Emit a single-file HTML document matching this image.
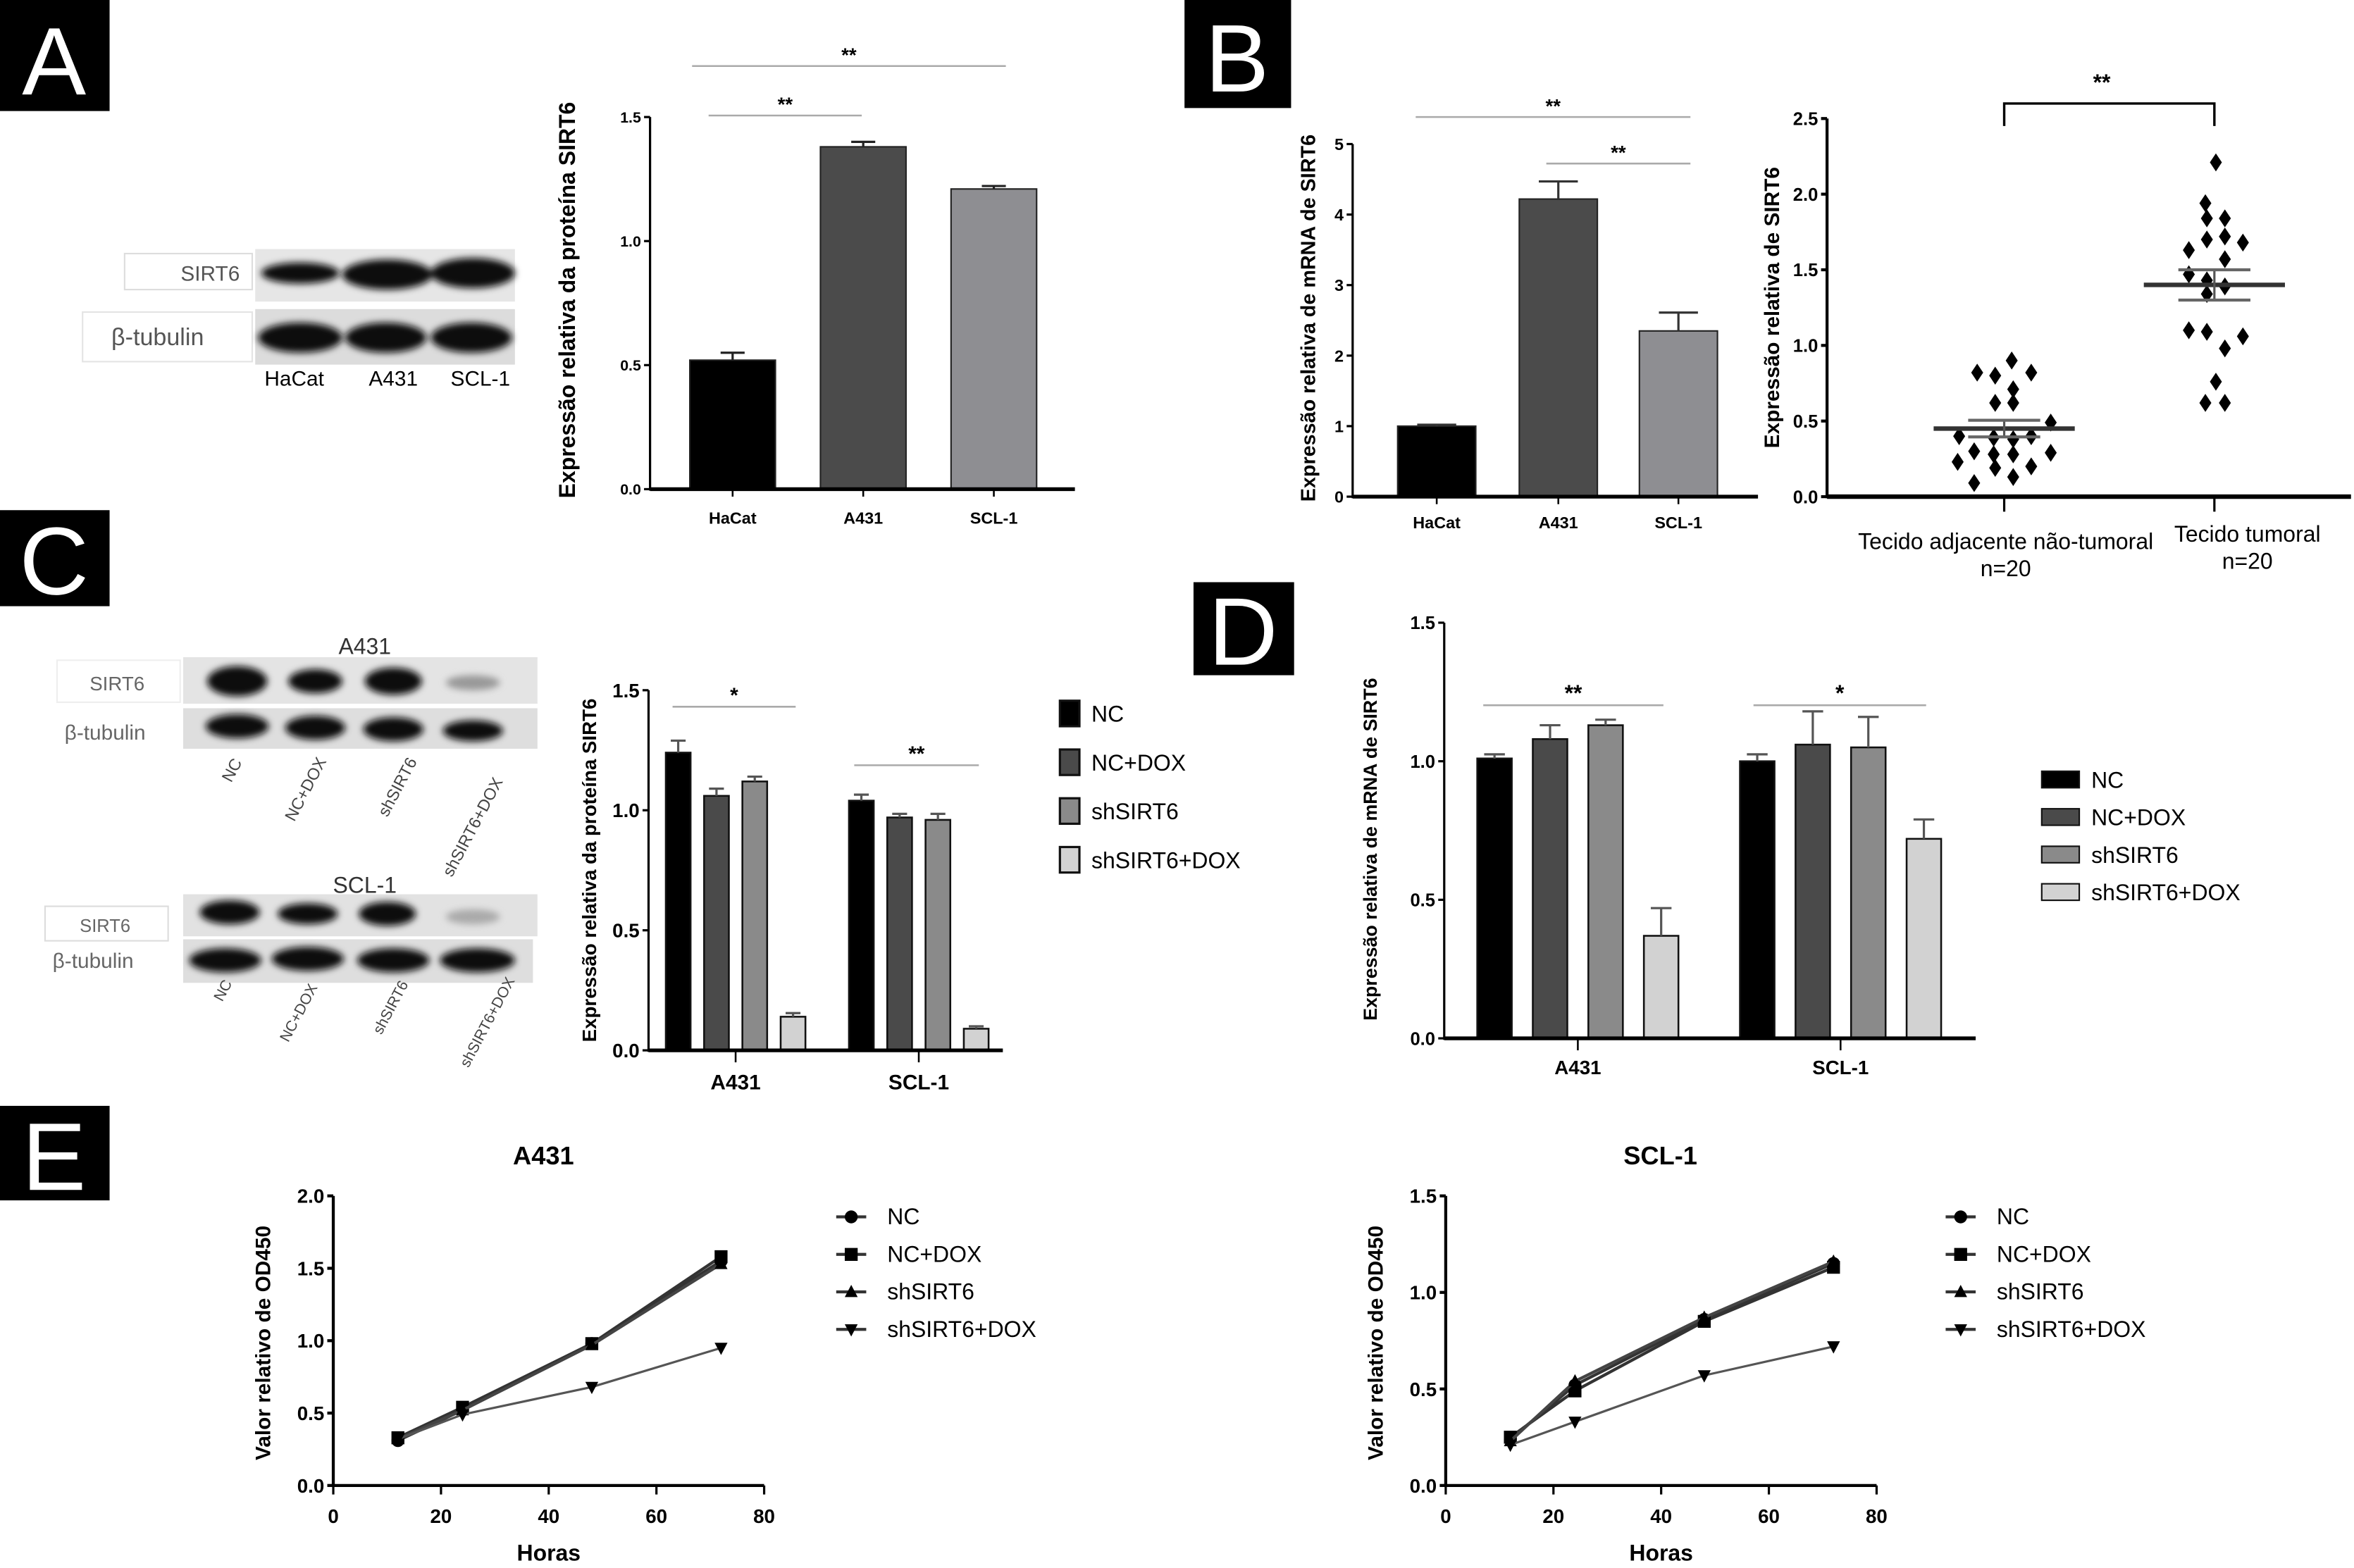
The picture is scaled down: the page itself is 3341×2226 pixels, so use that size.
<!DOCTYPE html>
<html><head><meta charset="utf-8"><style>
html,body{margin:0;padding:0;background:#fff;}
svg{display:block;}
text{font-family:"Liberation Sans",sans-serif;fill:#000;}
.n{font-family:"Liberation Sans Narrow","Liberation Sans",sans-serif;font-weight:bold;}
.b{font-weight:bold;}
.let{font-family:"Liberation Sans",sans-serif;fill:#fff;font-size:64px;}
</style></head><body>
<svg id="fig" width="3341" height="2226" viewBox="0 0 1568 1045" preserveAspectRatio="none" xmlns="http://www.w3.org/2000/svg">
<defs><filter id="blur" x="-20%" y="-50%" width="140%" height="200%"><feGaussianBlur stdDeviation="2.2"/></filter></defs>
<g><rect x="0" y="0" width="73" height="74" fill="#000"/><text class="let" x="36" y="63" text-anchor="middle">A</text></g>
<g><rect x="789" y="0" width="71" height="72" fill="#000"/><text class="let" x="824" y="61" text-anchor="middle">B</text></g>
<g><rect x="0" y="340" width="73" height="64" fill="#000"/><text class="let" x="36" y="396" text-anchor="middle">C</text></g>
<g><rect x="795" y="388" width="67" height="62" fill="#000"/><text class="let" x="828" y="443" text-anchor="middle">D</text></g>
<g><rect x="0" y="737" width="73" height="63" fill="#000"/><text class="let" x="36" y="793" text-anchor="middle">E</text></g>

<g>
<rect x="83" y="169" width="85" height="24" fill="#fff" stroke="#ddd"/><text x="140" y="187" font-size="14" text-anchor="middle" style="fill:#555">SIRT6</text>
<rect x="55" y="208" width="113" height="33" fill="#fff" stroke="#e4e4e4"/><text x="105" y="230" font-size="16" style="fill:#555" text-anchor="middle">β-tubulin</text>
<rect x="170" y="166" width="173" height="35" fill="#e6e6e6"/>
<rect x="170" y="206" width="173" height="37" fill="#dcdcdc"/>
<g filter="url(#blur)" fill="#111"><ellipse cx="200" cy="182" rx="26" ry="7"/><ellipse cx="258" cy="183" rx="30" ry="10"/><ellipse cx="315" cy="182" rx="28" ry="10"/>
<ellipse cx="200" cy="225" rx="28" ry="10"/><ellipse cx="257" cy="225" rx="27" ry="10"/><ellipse cx="314" cy="225" rx="27" ry="10"/></g>
<text x="196" y="257" font-size="14" text-anchor="middle">HaCat</text>
<text x="262" y="257" font-size="14" text-anchor="middle">A431</text>
<text x="320" y="257" font-size="14" text-anchor="middle">SCL-1</text>
</g>

<g>
<text x="243" y="436" font-size="15" text-anchor="middle" style="fill:#333">A431</text>
<rect x="38" y="440" width="82" height="28" fill="#fff" stroke="#eee"/><text x="78" y="460" font-size="13" style="fill:#666" text-anchor="middle">SIRT6</text>
<text x="70" y="493" font-size="14" style="fill:#666" text-anchor="middle">β-tubulin</text>
<rect x="122" y="438" width="236" height="31" fill="#e4e4e4"/>
<rect x="122" y="472" width="236" height="27" fill="#dedede"/>
<g filter="url(#blur)" fill="#111"><ellipse cx="158" cy="454" rx="20" ry="10"/><ellipse cx="210" cy="454" rx="18" ry="8"/><ellipse cx="262" cy="454" rx="19" ry="9"/><ellipse cx="315" cy="455" rx="18" ry="5" fill="#999"/>
<ellipse cx="158" cy="484" rx="21" ry="8"/><ellipse cx="210" cy="485" rx="20" ry="8"/><ellipse cx="262" cy="486" rx="20" ry="8"/><ellipse cx="315" cy="487" rx="20" ry="7"/></g>
<g font-size="11">
<text transform="translate(154,522) rotate(-62)" style="fill:#444">NC</text>
<text transform="translate(196,548) rotate(-62)" style="fill:#444">NC+DOX</text>
<text transform="translate(258,545) rotate(-62)" style="fill:#444">shSIRT6</text>
<text transform="translate(301,585) rotate(-62)" style="fill:#444">shSIRT6+DOX</text></g>
</g>
<g>
<text x="243" y="595" font-size="15" text-anchor="middle" style="fill:#333">SCL-1</text>
<rect x="30" y="604" width="82" height="23" fill="#fff" stroke="#ddd"/><text x="70" y="621" font-size="12" style="fill:#666" text-anchor="middle">SIRT6</text>
<text x="62" y="645" font-size="14" style="fill:#666" text-anchor="middle">β-tubulin</text>
<rect x="122" y="596" width="236" height="28" fill="#e2e2e2"/>
<rect x="122" y="626" width="233" height="29" fill="#dedede"/>
<g filter="url(#blur)" fill="#111"><ellipse cx="153" cy="608" rx="20" ry="8"/><ellipse cx="205" cy="609" rx="20" ry="7"/><ellipse cx="258" cy="609" rx="19" ry="8"/><ellipse cx="315" cy="611" rx="18" ry="5" fill="#aaa"/>
<ellipse cx="150" cy="640" rx="24" ry="8"/><ellipse cx="205" cy="639" rx="24" ry="8"/><ellipse cx="262" cy="640" rx="24" ry="8"/><ellipse cx="318" cy="640" rx="25" ry="8"/></g>
<g font-size="10">
<text transform="translate(148,668) rotate(-62)" style="fill:#444">NC</text>
<text transform="translate(192,695) rotate(-62)" style="fill:#444">NC+DOX</text>
<text transform="translate(254,690) rotate(-62)" style="fill:#444">shSIRT6</text>
<text transform="translate(312,712) rotate(-62)" style="fill:#444">shSIRT6+DOX</text></g>
</g>
<g id="charts"></g>
</svg>
<script>
const aCats = ['HaCat','A431','SCL-1'];
const aVals = [0.52, 1.38, 1.21];
const aErr = [0.03, 0.02, 0.012];
const aTicks = ['0.0','0.5','1.0','1.5'];

const bCats = ['HaCat','A431','SCL-1'];
const bVals = [1.0, 4.22, 2.35];
const bErr = [0.02, 0.25, 0.26];
const bTicks = ['0','1','2','3','4','5'];

const sGroups = ['Tecido adjacente não-tumoral','Tecido tumoral'];
const sVals1 = [0.82,0.80,0.90,0.82,0.71,0.62,0.62,0.49,0.40,0.39,0.38,0.40,0.30,0.28,0.28,0.29,0.23,0.19,0.20,0.09,0.13];
const sVals2 = [2.21,1.94,1.84,1.84,1.70,1.72,1.68,1.63,1.57,1.47,1.43,1.39,1.34,1.09,1.10,1.06,0.98,0.76,0.62,0.62];
const sMeans = [0.45, 1.40];
const sSem = [0.055, 0.10];
const sTicks = ['0.0','0.5','1.0','1.5','2.0','2.5'];

const seriesNames = ['NC','NC+DOX','shSIRT6','shSIRT6+DOX'];
const cCats = ['A431','SCL-1'];
const cVals = [[1.24,1.06,1.12,0.14],[1.04,0.97,0.96,0.09]];
const cErr = [[0.05,0.03,0.02,0.015],[0.025,0.015,0.025,0.01]];
const cTicks = ['0.0','0.5','1.0','1.5'];

const dCats = ['A431','SCL-1'];
const dVals = [[1.01,1.08,1.13,0.37],[1.0,1.06,1.05,0.72]];
const dErr = [[0.015,0.05,0.02,0.10],[0.025,0.12,0.11,0.07]];
const dTicks = ['0.0','0.5','1.0','1.5'];

const eHours = [12,24,48,72];
const eA431 = [[0.31,0.52,0.98,1.55],[0.33,0.54,0.98,1.58],[0.32,0.52,0.97,1.53],[0.32,0.49,0.68,0.95]];
const eSCL = [[0.24,0.52,0.86,1.15],[0.25,0.49,0.85,1.13],[0.23,0.54,0.87,1.16],[0.21,0.33,0.57,0.72]];
const eTicksA = ['0.0','0.5','1.0','1.5','2.0'];
const eTicksS = ['0.0','0.5','1.0','1.5'];
const eXTicks = ['0','20','40','60','80'];

const NS='http://www.w3.org/2000/svg';
const root=document.getElementById('charts');
function add(parent, tag, attrs, name){
  const e=document.createElementNS(NS,tag);
  for(const k in attrs) e.setAttribute(k, attrs[k]);
  
  
  parent.appendChild(e);
  return e;
}
function txt(parent, x, y, s, size, name, extra){
  const t=add(parent,'text',Object.assign({x:x,y:y,'font-size':size,'text-anchor':'middle'},extra||{}),name);
  t.textContent=s; return t;
}
function yAxis(g, x, y0, y1, ticks, max, size, cls, lw){
  add(g,'line',{x1:x,y1:y0+1,x2:x,y2:y1,stroke:'#000','stroke-width':lw},'y-axis-line');
  ticks.forEach((t,i)=>{
    const y=y0-(y0-y1)*(parseFloat(t)/max);
    add(g,'line',{x1:x-4,y1:y,x2:x,y2:y,stroke:'#000','stroke-width':lw},'y-tick');
    txt(g,x-6,y+size*0.36,t,size,'y-tick-label',{'text-anchor':'end','class':cls});
  });
}
function errBar(g,cx,yv,ye,hw,col){
  add(g,'line',{x1:cx,y1:yv,x2:cx,y2:ye,stroke:col,'stroke-width':1.5},'error-bar');
  add(g,'line',{x1:cx-hw,y1:ye,x2:cx+hw,y2:ye,stroke:col,'stroke-width':1.5},'error-cap');
}
function sig(g,x1,x2,y,label,size){
  add(g,'line',{x1:x1,y1:y,x2:x2,y2:y,stroke:'#aaa','stroke-width':1.2},'significance-line');
  txt(g,(x1+x2)/2,y-3,label,size,'significance-label',{'class':'b'});
}
function ytitle(g,x,y,s,size){
  txt(g,0,0,s,size,'y-axis-title',{'class':'b',transform:'translate('+x+','+y+') rotate(-90)'});
}

(function(){
  const g=add(root,'g',{},'chart-a');
  const y0=326,y1=78,max=1.5,ax=433;
  const ys=v=>y0-(y0-y1)*v/max;
  const cx=[488,575,662], bw=57, cols=['#000','#4b4b4b','#8e8e92'];
  aVals.forEach((v,i)=>{
    add(g,'rect',{x:cx[i]-bw/2,y:ys(v),width:bw,height:y0-ys(v),fill:cols[i],stroke:'#222','stroke-width':1},'bar-'+aCats[i].toLowerCase());
    errBar(g,cx[i],ys(v),ys(v+aErr[i]),8,'#222');
    add(g,'line',{x1:cx[i],y1:y0,x2:cx[i],y2:y0+5,stroke:'#000','stroke-width':1.2},'x-tick');
    txt(g,cx[i],349,aCats[i],11,'x-tick-label',{'class':'n'});
  });
  add(g,'line',{x1:ax,y1:y0,x2:716,y2:y0,stroke:'#000','stroke-width':2.5},'x-axis-line');
  yAxis(g,ax,y0,y1,aTicks,max,10,'n',1.5);
  sig(g,461,670,44,'**',13); sig(g,472,574,77,'**',13);
  ytitle(g,383,200,'Expressão relativa da proteína SIRT6',15);
})();

(function(){
  const g=add(root,'g',{},'chart-b-bar');
  const y0=331,y1=96,max=5,ax=901;
  const ys=v=>y0-(y0-y1)*v/max;
  const cx=[957,1038,1118], bw=52, cols=['#000','#4b4b4b','#8e8e92'];
  bVals.forEach((v,i)=>{
    add(g,'rect',{x:cx[i]-bw/2,y:ys(v),width:bw,height:y0-ys(v),fill:cols[i],stroke:'#222','stroke-width':1},'bar-'+bCats[i].toLowerCase());
    errBar(g,cx[i],ys(v),ys(v+bErr[i]),13,'#333');
    add(g,'line',{x1:cx[i],y1:y0,x2:cx[i],y2:y0+5,stroke:'#000','stroke-width':1.2},'x-tick');
    txt(g,cx[i],352,bCats[i],11,'x-tick-label',{'class':'n'});
  });
  add(g,'line',{x1:ax,y1:y0,x2:1171,y2:y0,stroke:'#000','stroke-width':2.5},'x-axis-line');
  yAxis(g,ax,y0,y1,bTicks,max,11,'n',1.5);
  sig(g,943,1126,78,'**',13); sig(g,1030,1126,109,'**',13);
  ytitle(g,876,212,'Expressão relativa de mRNA de SIRT6',13.5);
})();

(function(){
  const g=add(root,'g',{},'chart-b-scatter');
  const y0=331,y1=79,max=2.5,ax=1217;
  const ys=v=>y0-(y0-y1)*v/max;
  const cx=[1335,1475];
  const dx1=[-18,-6,5,18,6,-6,6,31,-30,-7,6,18,-20,-7,6,31,-31,-6,18,-20,6];
  const dx2=[1,-6,-5,7,-5,7,19,-17,7,-17,-5,7,-5,-5,-17,19,7,1,-6,7];
  [sVals1,sVals2].forEach((arr,gi)=>{
    const dx=gi?dx2:dx1;
    arr.forEach((v,i)=>{
      const x=cx[gi]+dx[i],y=ys(v);
      add(g,'path',{d:'M'+x+' '+(y-6)+'L'+(x+4)+' '+y+'L'+x+' '+(y+6)+'L'+(x-4)+' '+y+'Z',fill:'#000'},'point-group-'+(gi+1));
    });
    const m=ys(sMeans[gi]);
    add(g,'line',{x1:cx[gi]-47,y1:m,x2:cx[gi]+47,y2:m,stroke:'#333','stroke-width':3},'mean-line');
    add(g,'line',{x1:cx[gi],y1:ys(sMeans[gi]-sSem[gi]),x2:cx[gi],y2:ys(sMeans[gi]+sSem[gi]),stroke:'#555','stroke-width':1.5},'sem-bar');
    add(g,'line',{x1:cx[gi]-24,y1:ys(sMeans[gi]+sSem[gi]),x2:cx[gi]+24,y2:ys(sMeans[gi]+sSem[gi]),stroke:'#666','stroke-width':2},'sem-cap');
    add(g,'line',{x1:cx[gi]-24,y1:ys(sMeans[gi]-sSem[gi]),x2:cx[gi]+24,y2:ys(sMeans[gi]-sSem[gi]),stroke:'#666','stroke-width':2},'sem-cap');
    add(g,'line',{x1:cx[gi],y1:y0,x2:cx[gi],y2:y0+10,stroke:'#000','stroke-width':1.5},'x-tick');
  });
  add(g,'line',{x1:ax,y1:y0,x2:1566,y2:y0,stroke:'#000','stroke-width':3},'x-axis-line');
  yAxis(g,ax,y0,y1,sTicks,max,12,'n',2);
  add(g,'path',{d:'M1335 84V69H1475V84',fill:'none',stroke:'#000','stroke-width':1.6},'significance-bracket');
  txt(g,1400,60,'**',15,'significance-label',{'class':'b'});
  txt(g,1336,366,sGroups[0],15,'x-tick-label',{'class':'n','style':'font-weight:normal'});
  txt(g,1336,384,'n=20',15,'x-tick-label',{'class':'n','style':'font-weight:normal'});
  txt(g,1497,361,sGroups[1],15,'x-tick-label',{'class':'n','style':'font-weight:normal'});
  txt(g,1497,379,'n=20',15,'x-tick-label',{'class':'n','style':'font-weight:normal'});
  ytitle(g,1185,205,'Expressão relativa de SIRT6',14);
})();

const gCols=['#000','#4a4a4a','#8a8a8a','#d2d2d2'];
function grouped(name,cats,vals,errs,o){
  const g=add(root,'g',{},name);
  const ys=v=>o.y0-(o.y0-o.y1)*v/o.max;
  cats.forEach((c,ci)=>{
    vals[ci].forEach((v,si)=>{
      const x=o.gc[ci]+(si-1.5)*o.step;
      add(g,'rect',{x:x-o.bw/2,y:ys(v),width:o.bw,height:o.y0-ys(v),fill:gCols[si],stroke:'#111','stroke-width':1.2},'bar-'+c.toLowerCase()+'-'+seriesNames[si].toLowerCase().replace('+','-'));
      errBar(g,x,ys(v),ys(v+errs[ci][si]),o.bw*0.3,'#555');
    });
    add(g,'line',{x1:o.gc[ci],y1:o.y0,x2:o.gc[ci],y2:o.y0+8,stroke:'#000','stroke-width':1.2},'x-tick');
    txt(g,o.gc[ci],o.y0+o.lab,c,o.cs,'x-tick-label',{'class':o.cls});
  });
  add(g,'line',{x1:o.ax,y1:o.y0,x2:o.xe,y2:o.y0,stroke:'#000','stroke-width':2.5},'x-axis-line');
  yAxis(g,o.ax,o.y0,o.y1,o.ticks,o.max,o.ts,o.cls,1.5);
  return g;
}
(function(){
  const g=grouped('chart-c',cCats,cVals,cErr,{y0:700,y1:460,max:1.5,ax:432,xe:668,gc:[490,612],step:25.5,bw:16.5,ticks:cTicks,ts:13,cls:'n',lab:26,cs:14});
  sig(g,448,530,471,'*',14); sig(g,569,652,510,'**',14);
  ytitle(g,397,580,'Expressão relativa da proteína SIRT6',13);
  seriesNames.forEach((s,i)=>{
    add(g,'rect',{x:706,y:467+i*32.5,width:13,height:17,fill:gCols[i],stroke:'#111','stroke-width':1.5},'legend-swatch');
    txt(g,727,481+i*32.5,s,15,'legend-label',{'text-anchor':'start','class':'n','style':'font-weight:normal'});
  });
})();
(function(){
  const g=grouped('chart-d',dCats,dVals,dErr,{y0:692,y1:415,max:1.5,ax:962,xe:1316,gc:[1051,1226],step:37,bw:23,ticks:dTicks,ts:12,cls:'b',lab:24,cs:13});
  sig(g,988,1108,470,'**',15); sig(g,1168,1283,470,'*',15);
  ytitle(g,917,566,'Expressão relativa de mRNA de SIRT6',12.6);
  seriesNames.forEach((s,i)=>{
    add(g,'rect',{x:1360,y:514+i*25,width:25,height:11,fill:gCols[i],stroke:'#111','stroke-width':1},'legend-swatch');
    txt(g,1393,525+i*25,s,15,'legend-label',{'text-anchor':'start'});
  });
})();

function marker(g,k,x,y,r,name){
  let d;
  if(k===0) return add(g,'circle',{cx:x,cy:y,r:r,fill:'#000'},name);
  if(k===1) d='M'+(x-r)+' '+(y-r)+'h'+2*r+'v'+2*r+'h'+(-2*r)+'Z';
  if(k===2) d='M'+x+' '+(y-r*1.1)+'L'+(x+r)+' '+(y+r*0.8)+'L'+(x-r)+' '+(y+r*0.8)+'Z';
  if(k===3) d='M'+x+' '+(y+r*1.1)+'L'+(x+r)+' '+(y-r*0.8)+'L'+(x-r)+' '+(y-r*0.8)+'Z';
  return add(g,'path',{d:d,fill:'#000'},name);
}
function lineChart(name,data,o){
  const g=add(root,'g',{},name);
  const xs=h=>o.ax+h*287/80, ys=v=>990-193*v/o.max;
  const lc=['#333','#333','#444','#555'];
  data.forEach((ser,si)=>{
    const pts=ser.map((v,i)=>xs(eHours[i])+','+ys(v)).join(' ');
    add(g,'polyline',{points:pts,fill:'none',stroke:lc[si],'stroke-width':si===3?1.5:2},'line-'+seriesNames[si].toLowerCase().replace('+','-'));
    ser.forEach((v,i)=>marker(g,si,xs(eHours[i]),ys(v),4.3,'point-'+seriesNames[si].toLowerCase().replace('+','-')));
  });
  add(g,'line',{x1:o.ax,y1:990,x2:xs(80),y2:990,stroke:'#000','stroke-width':2},'x-axis-line');
  eXTicks.forEach(t=>{
    const x=xs(parseFloat(t));
    add(g,'line',{x1:x,y1:990,x2:x,y2:996,stroke:'#000','stroke-width':1.5},'x-tick');
    txt(g,x,1015,t,13,'x-tick-label',{'class':'n'});
  });
  yAxis(g,o.ax,990,797,o.ticks,o.max,13,'n',2);
  txt(g,xs(40),1040,'Horas',15,'x-axis-title',{'class':'n'});
  txt(g,o.tx,776,o.title,17,'chart-title',{'class':'n'});
  ytitle(g,o.ax-42,895,'Valor relativo de OD450',14);
  seriesNames.forEach((s,i)=>{
    add(g,'line',{x1:o.lx-10,y1:o.ly+i*25,x2:o.lx+10,y2:o.ly+i*25,stroke:'#333','stroke-width':2},'legend-line');
    marker(g,i,o.lx,o.ly+i*25,4.3,'legend-marker');
    txt(g,o.lx+24,o.ly+5+i*25,s,15,'legend-label',{'text-anchor':'start'});
  });
}
lineChart('chart-e-a431',eA431,{ax:222,max:2,ticks:eTicksA,title:'A431',tx:362,lx:567,ly:811});
lineChart('chart-e-scl1',eSCL,{ax:963,max:1.5,ticks:eTicksS,title:'SCL-1',tx:1106,lx:1306,ly:811});
</script>
</body></html>
